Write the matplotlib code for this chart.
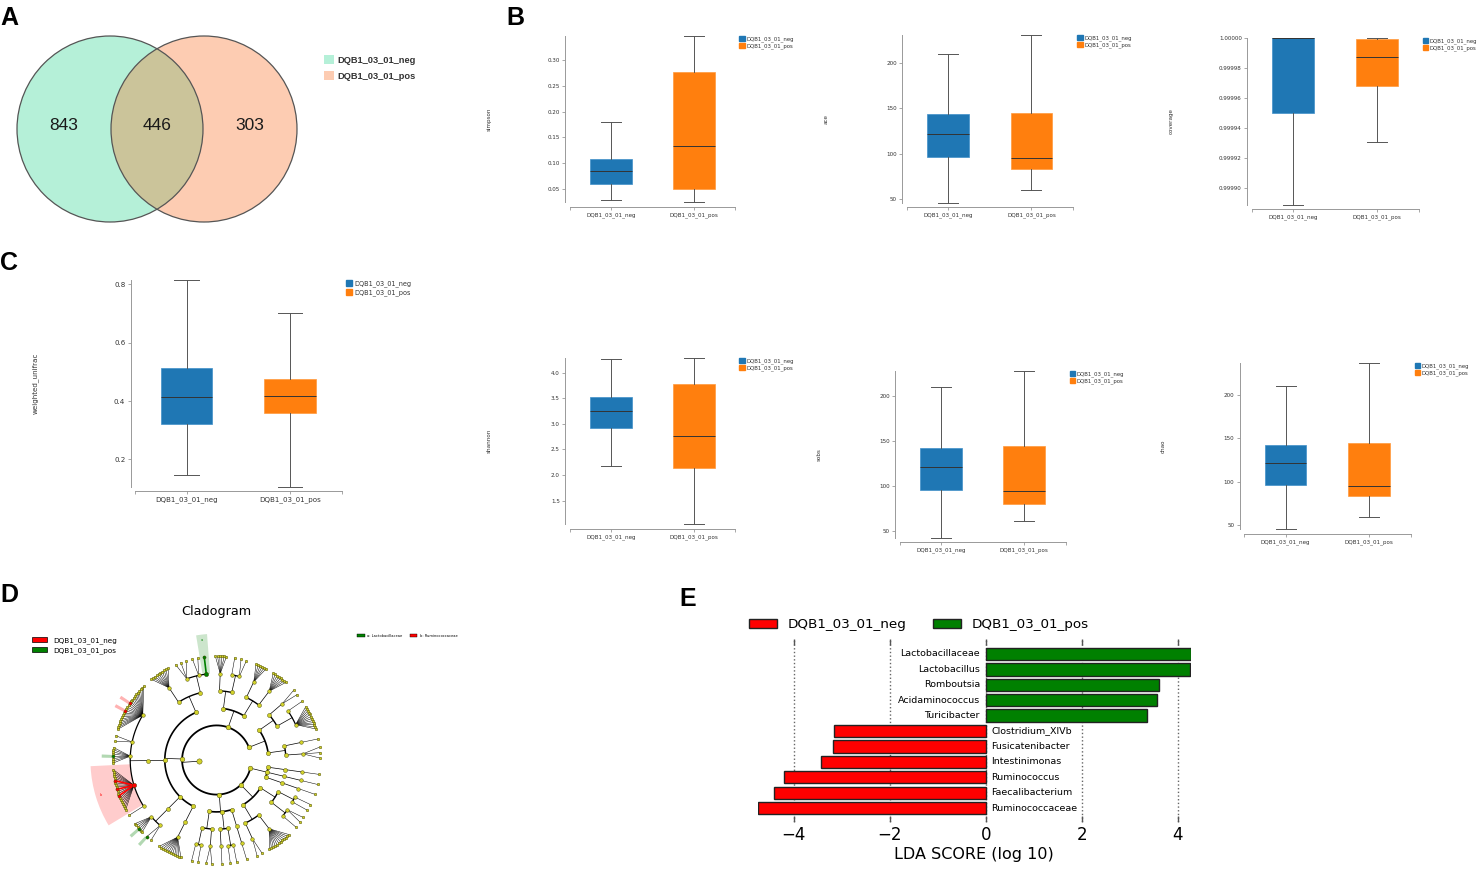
import numpy as np
import matplotlib
matplotlib.use("Agg")
import matplotlib.pyplot as plt
from matplotlib.patches import Circle, Patch, Wedge
from matplotlib.ticker import FormatStrFormatter

W, H = 1479, 871
fig = plt.figure(figsize=(W / 100, H / 100), dpi=100)


def px_axes(x0, y0, x1, y1):
    return fig.add_axes([x0 / W, 1 - y1 / H, (x1 - x0) / W, (y1 - y0) / H])


def fpx(x, y):
    return x / W, 1 - y / H


groups = ["DQB1_03_01_neg", "DQB1_03_01_pos"]

# ---- data -------------------------------------------------------------
venn_counts = [843, 446, 303]  # neg only, shared, pos only

# box stats per group: whislo, q1, median, q3, whishi
simpson_stats = [[0.0287, 0.0591, 0.085, 0.1076, 0.180], [0.0243, 0.0494, 0.134, 0.277, 0.347]]
ace_stats = [[46.0, 96.4, 121.4, 143.4, 210.0], [59.6, 82.7, 95.5, 145.0, 231.0]]
coverage_stats = [[0.999889, 0.99995, 1.0, 1.0, 1.0], [0.999931, 0.999968, 0.999987, 0.999999, 1.0]]
unifrac_stats = [[0.1456, 0.3223, 0.4136, 0.5136, 0.8137], [0.1066, 0.3607, 0.418, 0.4749, 0.7008]]
shannon_stats = [[2.18, 2.91, 3.248, 3.532, 4.26], [1.04, 2.14, 2.766, 3.78, 4.28]]
sobs_stats = [[42.6, 95.2, 120.8, 142.6, 210.0], [61.7, 80.0, 94.8, 144.4, 227.8]]
chao_stats = [[45.0, 96.0, 121.3, 142.9, 210.4], [59.0, 83.0, 95.3, 144.8, 237.4]]

simpson_ticks = [0.05, 0.10, 0.15, 0.20, 0.25, 0.30]
count_ticks = [50, 100, 150, 200]
coverage_ticks = [0.99990, 0.99992, 0.99994, 0.99996, 0.99998, 1.00000]
unifrac_ticks = [0.2, 0.4, 0.6, 0.8]
shannon_ticks = [1.5, 2.0, 2.5, 3.0, 3.5, 4.0]

lda_names = ["Lactobacillaceae", "Lactobacillus", "Romboutsia", "Acidaminococcus",
             "Turicibacter", "Clostridium_XlVb", "Fusicatenibacter", "Intestinimonas",
             "Ruminococcus", "Faecalibacterium", "Ruminococcaceae"]
lda_scores = [4.27, 4.26, 3.61, 3.56, 3.36, -3.17, -3.18, -3.44, -4.21, -4.42, -4.75]

# cladogram: phylum -> class -> order -> family (= number of genera)
clado_tree = [
    [[[3], [1]], [[12, 1], [2]]],
    [[[8], [6]], [[2, 1], [6]]],
    [[[1, 2, 3], [10]], [[24, 2, 8, 20, 1]], [[6, 2]], [[12]]],
    [[[1, 1], [2]], [[1], [1, 1]], [[1]]],
    [[[2], [12]], [[1, 2], [1, 1]]],
    [[[1]], [[1]], [[1]]],
]
neg_markers = [(2, 1, 0, 3), (2, 1, 0, 0, 10), (2, 1, 0, 0, 14),
               (2, 1, 0, 3, 5), (2, 1, 0, 3, 9), (2, 1, 0, 3, 12)]
pos_markers = [(2, 0, 0, 0), (2, 0, 0, 0, 0), (2, 1, 0, 2, 4),
               (2, 2, 0, 0, 3), (2, 2, 0, 1, 0)]
clade_letters = {(2, 0, 0, 0): "a", (2, 1, 0, 3): "b"}
clade_names = ["a: Lactobacillaceae", "b: Ruminococcaceae"]

box_colors = ["#1f77b4", "#ff7f0e"]
box_edges = ["#3f8fc8", "#ff9a3c"]
red, green = "#ff0000", "#008000"

# ---- A: Venn ----------------------------------------------------------
ax = px_axes(0, 0, 320, 240)
ax.set_xlim(0, 320)
ax.set_ylim(240, 0)
ax.axis("off")
r, cy = 93, 129
cx1, cx2 = 110, 204
c_left = Circle((cx1, cy), r, facecolor="#b5f0d8", edgecolor="none")
c_right = Circle((cx2, cy), r, facecolor="#fdccb2", edgecolor="none")
ax.add_patch(c_left)
ax.add_patch(c_right)
c_mid = Circle((cx2, cy), r, facecolor="#cbc49a", edgecolor="none")
ax.add_patch(c_mid)
c_mid.set_clip_path(c_left)
for cx in (cx1, cx2):
    ax.add_patch(Circle((cx, cy), r, facecolor="none", edgecolor="#555555", linewidth=0.9))
xs = [(cx1 - r + cx2 - r) / 2, (cx2 - r + cx1 + r) / 2, (cx1 + r + cx2 + r) / 2]
for x, n in zip(xs, venn_counts):
    ax.text(x, cy - 4, str(n), ha="center", va="center", fontsize=12.5,
            family="Liberation Sans", color="#1a1a1a")
ax.legend([Patch(facecolor="#b5f0d8"), Patch(facecolor="#fdccb2")], groups,
          loc="upper left", bbox_to_anchor=fpx(324, 55), bbox_transform=fig.transFigure,
          frameon=False, prop=dict(family="Liberation Sans", weight="bold", size=6.7),
          labelcolor="#333333", handlelength=1.1, handleheight=1.1, handletextpad=0.35,
          labelspacing=0.7, borderpad=0, borderaxespad=0)


# ---- B / C: box plots --------------------------------------------------
def box_panel(x0, y0, step, y1, stats, ylabel, yticks, fmt, fs, lfs, lab_off):
    width = 2 * step
    ax = px_axes(x0, y0, x0 + width, y1)
    bstats = [dict(whislo=s[0], q1=s[1], med=s[2], q3=s[3], whishi=s[4], fliers=[])
              for s in stats]
    art = ax.bxp(bstats, positions=[0, 1], widths=0.5, capwidths=0.24, patch_artist=True,
                 showfliers=False, manage_ticks=False,
                 boxprops=dict(linewidth=0.5),
                 medianprops=dict(color="#333333", linewidth=0.7),
                 whiskerprops=dict(color="#555555", linewidth=0.7),
                 capprops=dict(color="#555555", linewidth=0.7))
    for box, c, ec in zip(art["boxes"], box_colors, box_edges):
        box.set_facecolor(c)
        box.set_edgecolor(ec)
    for items in art.values():
        for a in items:
            a.set_clip_on(False)
    ax.set_xlim(-0.5, 1.5)
    ax.set_ylim(min(s[0] for s in stats), max(s[4] for s in stats))
    for side in ("top", "right"):
        ax.spines[side].set_visible(False)
    ax.spines["left"].set_position(("outward", 3))
    ax.spines["bottom"].set_position(("outward", 3.2))
    for side in ("left", "bottom"):
        ax.spines[side].set_color("#999999")
        ax.spines[side].set_linewidth(0.7)
    ax.set_xticks([-0.5, 0, 1, 1.5])
    ax.set_xticklabels(["", groups[0], groups[1], ""])
    ax.set_yticks(yticks)
    ax.yaxis.set_major_formatter(FormatStrFormatter(fmt))
    ax.tick_params(length=2, width=0.6, color="#999999", labelsize=fs,
                   labelcolor="#333333", pad=2)
    ax.set_ylabel(ylabel, fontsize=fs, color="#333333")
    ax.yaxis.set_label_coords(-lab_off / width, 0.5)
    handles = [Patch(facecolor=c, edgecolor=c) for c in box_colors]
    ax.legend(handles, groups, loc="upper left", bbox_to_anchor=(1 + 4 / width, 1.0),
              frameon=False, fontsize=lfs, labelcolor="#333333", handlelength=1.05,
              handleheight=1.05, handletextpad=0.25, labelspacing=0.2, borderpad=0,
              borderaxespad=0)
    return ax


box_panel(569.5, 35.7, 83, 202.3, simpson_stats, "simpson", simpson_ticks, "%.2f", 4.1, 3.9, 78)
box_panel(906.5, 35, 83.3, 202.7, ace_stats, "ace", count_ticks, "%d", 4.1, 3.9, 78)
box_panel(1251.5, 37.7, 83.5, 204.7, coverage_stats, "coverage", coverage_ticks, "%.5f", 4.1, 3.9, 78)
box_panel(135, 280.3, 103.3, 486.7, unifrac_stats, "weighted_unifrac", unifrac_ticks, "%.1f", 5.1, 4.7, 96)
box_panel(569.5, 358.3, 83, 524.3, shannon_stats, "shannon", shannon_ticks, "%.1f", 4.1, 3.9, 78)
box_panel(899.5, 371, 83, 537.7, sobs_stats, "sobs", count_ticks, "%d", 4.1, 3.9, 78)
box_panel(1244, 362.7, 83.3, 529.3, chao_stats, "chao", count_ticks, "%d", 4.1, 3.9, 78)

# ---- D: cladogram ------------------------------------------------------
leaf_paths = []


def collect(path, sub):
    if isinstance(sub, int):
        for g in range(sub):
            leaf_paths.append((path + (g,), sub))
    else:
        for i, s in enumerate(sub):
            collect(path + (i,), s)


collect((), clado_tree)

level_gap = [6.0, 5.5, 4.5, 3.5]
raw = []
pos = 0.0
for k, (path, n) in enumerate(leaf_paths):
    if k:
        prev = leaf_paths[k - 1][0]
        d = next(i for i in range(len(path)) if path[i] != prev[i])
        pos += level_gap[d] if d < 4 else (1.2 if n >= 5 else 3.0)
    raw.append(pos)
a_start, a_stop = 1.0, 352.0
ang = {p: a_start + v * (a_stop - a_start) / raw[-1] for (p, _), v in zip(leaf_paths, raw)}
children = {}


def place(path, sub):
    if isinstance(sub, int):
        kids = [path + (g,) for g in range(sub)]
    else:
        kids = [path + (i,) for i in range(len(sub))]
        for kid, s in zip(kids, sub):
            place(kid, s)
    children[path] = kids
    ang[path] = 0.5 * (ang[kids[0]] + ang[kids[-1]])


place((), clado_tree)


def polar(rad, a):
    t = np.radians(a)
    return rad * np.cos(t), rad * np.sin(t)


def marker_color(path):
    if path in neg_markers:
        return red
    if path in pos_markers:
        return green
    return None


unit = 17.3
ax = px_axes(20, 600, 430, 871)
ax.set_xlim((20 - 216.7) / unit, (430 - 216.7) / unit)
ax.set_ylim((760 - 871) / unit, (760 - 600) / unit)
ax.axis("off")

arc_lw = {2: 1.3, 3: 1.2, 4: 1.0, 5: 0.9}
for path, kids in children.items():
    rp = len(path) + 1
    ap = ang[path]
    if rp < 5:
        ax.plot(*zip(polar(rp, ap), polar(rp + 1, ap)), color="k", lw=0.5, zorder=1)
        if len(kids) > 1:
            t = np.linspace(ang[kids[0]], ang[kids[-1]], 300)
            ax.plot(*polar(rp + 1, t), color="k", lw=arc_lw[rp + 1], zorder=1,
                    solid_capstyle="butt")
    else:
        for kid in kids:
            col, lw, z = "k", 0.35, 1
            if marker_color(path) and marker_color(path) == marker_color(kid):
                col, lw, z = marker_color(path), 1.2, 2
            ax.plot(*zip(polar(5, ap), polar(6, ang[kid])), color=col, lw=lw, zorder=z)

node_size = {1: 3.8, 2: 3.4, 3: 3.1, 4: 2.9, 5: 2.6, 6: 1.9}
for path, a in ang.items():
    lev = len(path) + 1
    x, y = polar(lev, a)
    c = marker_color(path)
    ax.scatter([x], [y], s=(node_size[lev] * (1.2 if c else 1.0)) ** 2,
               c=c or "#d2d22a", edgecolors="#404000", linewidths=0.3, zorder=4 if c else 3)

for path in neg_markers + pos_markers:
    c = marker_color(path)
    if len(path) == 4:
        lv = [ang[p] for p, _ in leaf_paths if p[:4] == path]
        ax.add_patch(Wedge((0, 0), 7.3, min(lv) - 2.5, max(lv) + 2.5, width=2.3,
                           facecolor=c, alpha=0.2, linewidth=0, zorder=0))
        ax.text(*polar(7.0, ang[path]), clade_letters[path], fontsize=2.5, ha="center",
                va="center", color=c)
    elif path[:4] not in neg_markers + pos_markers:
        ax.add_patch(Wedge((0, 0), 6.65, ang[path] - 0.8, ang[path] + 0.8, width=0.6,
                           facecolor=c, alpha=0.3, linewidth=0, zorder=0))

fig.text(*fpx(216.7, 612), "Cladogram", ha="center", va="center", fontsize=9.2)
fig.legend([Patch(facecolor=red, edgecolor="k", lw=0.5), Patch(facecolor=green, edgecolor="k", lw=0.5)],
           groups, loc="upper left", bbox_to_anchor=fpx(32, 637), frameon=False, fontsize=5.2,
           handlelength=2.1, handleheight=0.7, handletextpad=0.8, labelspacing=0.45,
           borderpad=0, borderaxespad=0)
fig.legend([Patch(facecolor=green, edgecolor="k", lw=0.3), Patch(facecolor=red, edgecolor="k", lw=0.3)],
           clade_names, ncol=2, loc="center left", bbox_to_anchor=fpx(357, 636), frameon=False,
           fontsize=2.6, handlelength=2.1, handleheight=0.8, handletextpad=0.7,
           columnspacing=2.0, borderpad=0, borderaxespad=0)

# ---- E: LDA ------------------------------------------------------------
ax = px_axes(757.7, 639, 1190.7, 822)
ypos = np.arange(len(lda_names))[::-1]
bar_colors = [green if s > 0 else red for s in lda_scores]
ax.barh(ypos, lda_scores, height=0.8, color=bar_colors, edgecolor="#222222", linewidth=1.0, zorder=2)
for yi, name, s in zip(ypos, lda_names, lda_scores):
    ax.text(-0.12 if s > 0 else 0.12, yi, name, ha="right" if s > 0 else "left",
            va="center", fontsize=6.8, zorder=3)
ax.set_xlim(min(lda_scores), max(lda_scores))
ax.set_ylim(-0.9, len(lda_names) - 0.03)
for sp in ax.spines.values():
    sp.set_visible(False)
ax.set_yticks([])
ax.set_xticks([-4, -2, 0, 2, 4])
ax.tick_params(axis="x", direction="in", top=True, bottom=True, length=4, width=1,
               color="#555555", labelsize=12, pad=2.6)
ax.grid(axis="x", linestyle=":", color="#666666", linewidth=1)
ax.set_axisbelow(True)
ax.set_xlabel("LDA SCORE (log 10)", fontsize=11.5, labelpad=2.7)
ax.legend([Patch(facecolor=red, edgecolor="#222222", lw=1), Patch(facecolor=green, edgecolor="#222222", lw=1)],
          groups, ncol=2, loc="center left", bbox_to_anchor=fpx(749, 624.5),
          bbox_transform=fig.transFigure, frameon=False, fontsize=9.7, handlelength=2.05,
          handleheight=0.65, handletextpad=0.8, columnspacing=2.0, borderpad=0, borderaxespad=0)

# ---- panel letters -----------------------------------------------------
for letter, x, y in [("A", 0, 25), ("B", 506, 25), ("C", 0, 270), ("D", 0, 602), ("E", 679, 606)]:
    fig.text(*fpx(x, y), letter, fontsize=18, fontweight="bold", family="Liberation Sans",
             va="baseline", ha="left")

fig.savefig("out.png", dpi=100)
